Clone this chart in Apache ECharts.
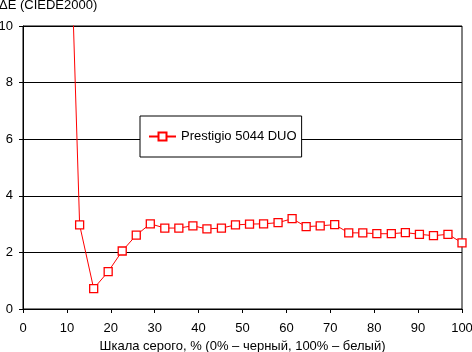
<!DOCTYPE html>
<html>
<head>
<meta charset="utf-8">
<script src="https://cdn.jsdelivr.net/npm/echarts@6/dist/echarts.min.js"></script>
<style>
  html, body { margin: 0; padding: 0; background: #fff; }
  #chart { width: 472px; height: 352px; }
</style>
</head>
<body>
<div id="chart"></div>
<script>
// Grey level, % (x) and deltaE (y)
const grayLevels = [9.7, 12.9, 16.1, 19.4, 22.6, 25.8, 29.0, 32.3, 35.5, 38.7, 41.9, 45.2, 48.4, 51.6,
  54.8, 58.1, 61.3, 64.5, 67.7, 71.0, 74.2, 77.4, 80.6, 83.9, 87.1, 90.3, 93.5, 96.8, 100];
const deltaE = [19.0, 2.97, 0.72, 1.32, 2.05, 2.61, 3.01, 2.86, 2.86, 2.94, 2.83, 2.86, 2.97, 3.00,
  3.01, 3.05, 3.19, 2.91, 2.94, 2.98, 2.69, 2.69, 2.66, 2.66, 2.70, 2.64, 2.59, 2.64, 2.34];
const seriesName = "Prestigio 5044 DUO";
const yTitle = "ΔE (CIEDE2000)";
const xTitle = "Шкала серого, % (0% – черный, 100% – белый)";

const font = "Arial, 'Liberation Sans', sans-serif";
const chart = echarts.init(document.getElementById("chart"), null, { renderer: "canvas" });

const option = {
  backgroundColor: "#fff",
  animation: false,
  textStyle: { fontFamily: font },
  title: {
    text: yTitle,
    left: -1,
    top: -1,
    padding: 0,
    textStyle: { fontSize: 13, fontWeight: "normal", color: "#000", fontFamily: font },
  },
  legend: {
    data: [seriesName],
    left: 140,
    top: 116,
    orient: "vertical",
    padding: [14, 5, 14, 8],
    itemWidth: 27,
    itemHeight: 10,
    itemGap: 0,
    backgroundColor: "#fff",
    borderColor: "#000",
    borderWidth: 1,
    borderRadius: 0,
    textStyle: { fontSize: 13, color: "#000", fontFamily: font },
  },
  grid: {
    left: 23,
    right: 10,
    top: 26,
    bottom: 43,
    outerBoundsMode: "none",
    containLabel: false,
    show: true,
    borderColor: "#000",
    borderWidth: 1,
    backgroundColor: "transparent",
  },
  xAxis: {
    type: "value",
    min: 0,
    max: 100,
    interval: 10,
    name: xTitle,
    nameLocation: "middle",
    nameGap: 29,
    nameTextStyle: { fontSize: 13, color: "#000", fontFamily: font },
    axisLine: { onZero: false, lineStyle: { color: "#000", width: 1 } },
    axisTick: { show: true, length: 4, lineStyle: { color: "#000" } },
    axisLabel: { fontSize: 13, color: "#000", margin: 13 },
    splitLine: { show: false },
  },
  yAxis: {
    type: "value",
    min: 0,
    max: 10,
    interval: 2,
    axisLine: { show: true, lineStyle: { color: "#000", width: 1 } },
    axisTick: { show: true, length: 4, lineStyle: { color: "#000" } },
    axisLabel: { fontSize: 13, color: "#000", margin: 10 },
    splitLine: { show: true, lineStyle: { color: "#000", width: 1 } },
  },
  series: [
    {
      name: seriesName,
      type: "line",
      clip: true,
      data: grayLevels.map((x, i) => [x, deltaE[i]]),
      symbol: "rect",
      symbolSize: 8,
      showAllSymbol: true,
      lineStyle: { color: "#ff0000", width: 1 },
      itemStyle: { color: "#fff", borderColor: "#ff0000", borderWidth: 1.3 },
    },
  ],
};

chart.setOption(option);
</script>
</body>
</html>
